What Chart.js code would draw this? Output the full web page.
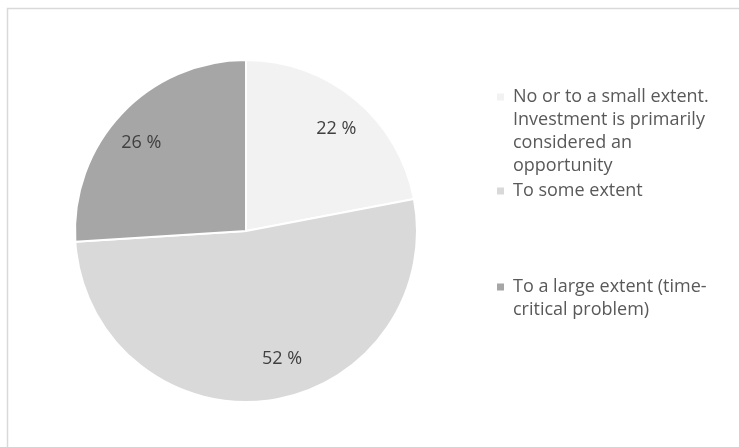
<!DOCTYPE html>
<html>
<head>
<meta charset="utf-8">
<script src="https://cdn.jsdelivr.net/npm/chart.js@4.4.1/dist/chart.umd.min.js"></script>
<style>
  html, body { margin: 0; padding: 0; background: #ffffff; }
  #wrap { width: 739px; height: 447px; position: relative; }
</style>
</head>
<body>
<div id="wrap"><canvas id="pie" width="739" height="447"></canvas></div>
<script>
// Survey answers and their shares (percent)
const categories = [
  'No or to a small extent. Investment is primarily considered an opportunity',
  'To some extent',
  'To a large extent (time-critical problem)'
];
const shares = [22, 52, 26];
const sliceColors = ['#f2f2f2', '#d9d9d9', '#a6a6a6'];

const FONT = '"Open Sans", "Noto Sans", "Liberation Sans", sans-serif';

// Light frame around the chart area
const framePlugin = {
  id: 'frame',
  beforeDraw(chart) {
    const ctx = chart.ctx;
    ctx.save();
    ctx.fillStyle = '#ffffff';
    ctx.fillRect(0, 0, chart.width, chart.height);
    ctx.strokeStyle = '#d9d9d9';
    ctx.lineWidth = 1.5;
    ctx.strokeRect(7.5, 8.5, chart.width + 20, chart.height + 20);
    ctx.restore();
  }
};

// Percentage labels inside each slice
const sliceLabelPlugin = {
  id: 'sliceLabels',
  afterDatasetsDraw(chart, args, opts) {
    const ctx = chart.ctx;
    const meta = chart.getDatasetMeta(0);
    const values = chart.data.datasets[0].data;
    ctx.save();
    ctx.font = opts.font;
    ctx.fillStyle = opts.color;
    ctx.textAlign = 'center';
    ctx.textBaseline = 'middle';
    meta.data.forEach((arc, i) => {
      const p = arc.getProps(['x', 'y', 'startAngle', 'endAngle', 'outerRadius'], true);
      const mid = (p.startAngle + p.endAngle) / 2;
      const r = p.outerRadius * opts.radiusFactor;
      const nudge = (opts.nudge && opts.nudge[i]) || [0, 0];
      const x = p.x + Math.cos(mid) * r + nudge[0];
      const y = p.y + Math.sin(mid) * r + nudge[1];
      ctx.fillText(values[i] + ' %', x, y);
    });
    ctx.restore();
  }
};

// Legend on the right with wrapped entries
function wrapText(ctx, text, maxWidth) {
  // split on spaces and after hyphens
  const tokens = text.match(/[^\s-]+-?|-/g) || [];
  const lines = [];
  let line = '';
  tokens.forEach((tok) => {
    const joiner = line === '' ? '' : (line.endsWith('-') ? '' : ' ');
    const candidate = line + joiner + tok;
    if (line !== '' && ctx.measureText(candidate).width > maxWidth) {
      lines.push(line);
      line = tok;
    } else {
      line = candidate;
    }
  });
  if (line) lines.push(line);
  return lines;
}

const sideLegendPlugin = {
  id: 'sideLegend',
  afterDraw(chart, args, opts) {
    const ctx = chart.ctx;
    const labels = chart.data.labels;
    const colors = chart.data.datasets[0].backgroundColor;
    ctx.save();
    ctx.font = opts.font;
    ctx.textAlign = 'left';
    ctx.textBaseline = 'middle';
    labels.forEach((lab, i) => {
      const lines = wrapText(ctx, lab, opts.maxWidth);
      const y0 = opts.firstLineY[i];
      ctx.fillStyle = colors[i];
      ctx.fillRect(opts.boxX, y0 - opts.boxSize / 2, opts.boxSize, opts.boxSize);
      ctx.fillStyle = opts.color;
      lines.forEach((ln, k) => {
        ctx.fillText(ln, opts.textX, y0 + k * opts.lineHeight);
      });
    });
    ctx.restore();
  }
};

new Chart(document.getElementById('pie'), {
  type: 'pie',
  data: {
    labels: categories,
    datasets: [{
      data: shares,
      backgroundColor: sliceColors,
      borderColor: '#ffffff',
      borderWidth: 2
    }]
  },
  options: {
    responsive: false,
    animation: false,
    layout: { padding: { left: 74, top: 59, right: 321, bottom: 44 } },
    plugins: {
      legend: { display: false },
      tooltip: { enabled: false },
      sliceLabels: {
        font: '18px ' + FONT,
        color: '#404040',
        radiusFactor: 0.8,
        nudge: [[3, 3], [19, -8], [-5, 6]]
      },
      sideLegend: {
        font: '18px ' + FONT,
        color: '#595959',
        boxX: 497,
        boxSize: 7,
        textX: 513,
        maxWidth: 206,
        lineHeight: 23,
        firstLineY: [97, 191, 287]
      }
    }
  },
  plugins: [framePlugin, sliceLabelPlugin, sideLegendPlugin]
});
</script>
</body>
</html>
